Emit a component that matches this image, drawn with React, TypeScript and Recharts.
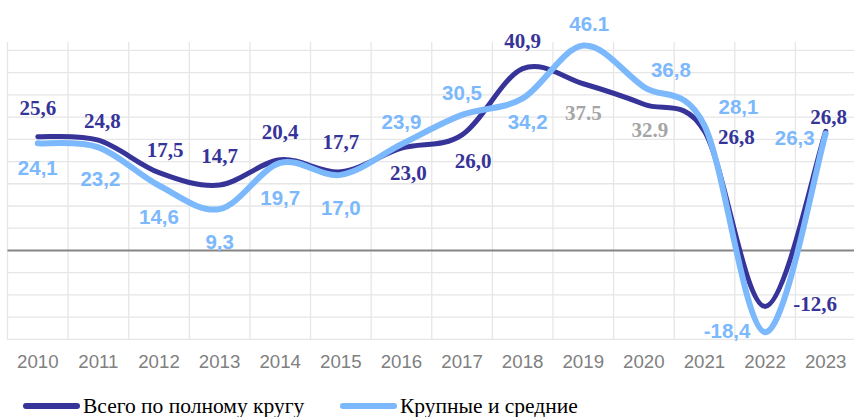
import React from "react";
import { LineChart, Line, XAxis, YAxis, ReferenceLine } from "recharts";

const years = ["2010","2011","2012","2013","2014","2015","2016","2017","2018","2019","2020","2021","2022","2023"];
const totalValues = [25.6, 24.8, 17.5, 14.7, 20.4, 17.7, 23.0, 26.0, 40.9, 37.5, 32.9, 26.8, -12.6, 26.8];
const largeValues = [24.1, 23.2, 14.6, 9.3, 19.7, 17.0, 23.9, 30.5, 34.2, 46.1, 36.8, 28.1, -18.4, 26.3];
const seriesNames = ["Всего по полному кругу", "Крупные и средние"];
const yTicks = [-20, -15, -10, -5, 0, 5, 10, 15, 20, 25, 30, 35, 40, 45];

// label placement (dx, dy from point) – layout only
const totalLabelOffsets: [number, number][] = [
  [0, -29], [4, -19], [6, -23], [0, -29], [0, -28], [0, -30], [7, 25], [11, 26],
  [0, -28], [0, 29], [6, 26], [32, 6], [50, -2], [3, -14],
];
const largeLabelOffsets: [number, number][] = [
  [0, 24], [2, 31], [0, 31], [0, 32], [0, 35], [0, 33], [0, -23], [0, -22],
  [5, 23], [6, -22], [27, -17], [34, -19], [-38, -2], [-31, 4],
];
// indices whose label is shown greyed with a dot separator
const totalGreyIdx = [9, 10];
const largeDotIdx = [9];

const DARK = "#363399";
const LIGHT = "#7cb8fc";
const GREY = "#a5a5a5";
const GRID = "#e6e6e6";

const data = years.map((y, i) => ({ x: i, year: y, total: totalValues[i], large: largeValues[i] }));
const categoryBounds = [-0.5, ...years.map((_, i) => i + 0.5)];

function smoothCurve(context: any) {
  let pts: number[][] = [];
  return {
    areaStart() {},
    areaEnd() {},
    lineStart() { pts = []; },
    point(x: number, y: number) { pts.push([+x, +y]); },
    lineEnd() {
      const n = pts.length;
      if (!n) return;
      context.moveTo(pts[0][0], pts[0][1]);
      for (let i = 0; i < n - 1; i++) {
        const p0 = pts[i - 1] || pts[i];
        const p1 = pts[i];
        const p2 = pts[i + 1];
        const p3 = pts[i + 2] || p2;
        context.bezierCurveTo(
          p1[0] + (p2[0] - p0[0]) / 6, p1[1] + (p2[1] - p0[1]) / 6,
          p2[0] - (p3[0] - p1[0]) / 6, p2[1] - (p3[1] - p1[1]) / 6,
          p2[0], p2[1]
        );
      }
    },
  };
}

const fmt = (v: number, dot: boolean) => {
  const s = v.toFixed(1);
  return dot ? s : s.replace(".", ",");
};

const totalLabel = (p: any) => {
  const i = p.index;
  const grey = totalGreyIdx.includes(i);
  const [dx, dy] = totalLabelOffsets[i];
  return (
    <text key={"t" + i} x={p.cx + dx} y={p.cy + dy} textAnchor="middle" dominantBaseline="central"
      fontFamily="'Liberation Serif', 'Times New Roman', serif" fontWeight="bold" fontSize={21}
      fill={grey ? GREY : DARK}>
      {fmt(totalValues[i], grey)}
    </text>
  );
};

const largeLabel = (p: any) => {
  const i = p.index;
  const [dx, dy] = largeLabelOffsets[i];
  return (
    <text key={"l" + i} x={p.cx + dx} y={p.cy + dy} textAnchor="middle" dominantBaseline="central"
      fontFamily="'Liberation Sans', Arial, sans-serif" fontWeight="bold" fontSize={20.5}
      fill={LIGHT}>
      {fmt(largeValues[i], largeDotIdx.includes(i))}
    </text>
  );
};

export default function App() {
  return (
    <div style={{ position: "absolute", left: 0, top: 0, width: 854, height: 417, overflow: "hidden", background: "#fff" }}>
      <LineChart width={856} height={417} data={data} margin={{ top: 42, left: 7.5, right: 0, bottom: 37.7 }}>
        <XAxis dataKey="x" type="number" domain={[-0.5, 13.5]} ticks={years.map((_, i) => i)}
          tickFormatter={(v: number) => years[v]} axisLine={false} tickLine={false} tickSize={0}
          tickMargin={15.7} height={40} interval={0}
          tick={{ fill: "#808080", fontSize: 18.7, fontFamily: "'Liberation Sans', Arial, sans-serif" }} />
        <YAxis hide domain={[-20, 46.9]} ticks={yTicks} />
        {yTicks.filter((t) => t !== 0).map((t) => (
          <ReferenceLine key={"h" + t} y={t} stroke={GRID} strokeWidth={1.3} />
        ))}
        {categoryBounds.map((b) => (
          <ReferenceLine key={"v" + b} x={b} stroke={GRID} strokeWidth={1.3} />
        ))}
        <ReferenceLine y={0} stroke="#858585" strokeWidth={2} />
        <Line dataKey="total" name={seriesNames[0]} type={smoothCurve as any} stroke={DARK} strokeWidth={5}
          strokeLinecap="round" dot={totalLabel} activeDot={false} isAnimationActive={false} />
        <Line dataKey="large" name={seriesNames[1]} type={smoothCurve as any} stroke={LIGHT} strokeWidth={6}
          strokeLinecap="round" dot={largeLabel} activeDot={false} isAnimationActive={false} />
      </LineChart>
      <div style={{ position: "absolute", left: 0, top: 392, width: 854, height: 25, fontFamily: "'Liberation Serif', 'Times New Roman', serif", fontSize: 21.5, color: "#000" }}>
        {[DARK, LIGHT].map((c, k) => (
          <div key={k} style={{ position: "absolute", left: k === 0 ? 23 : 340, top: 0, display: "flex", alignItems: "center", height: 28, whiteSpace: "nowrap" }}>
            <span style={{ display: "inline-block", width: 57, height: 6, borderRadius: 3, background: c, marginRight: 3 }} />
            <span>{seriesNames[k]}</span>
          </div>
        ))}
      </div>
    </div>
  );
}
